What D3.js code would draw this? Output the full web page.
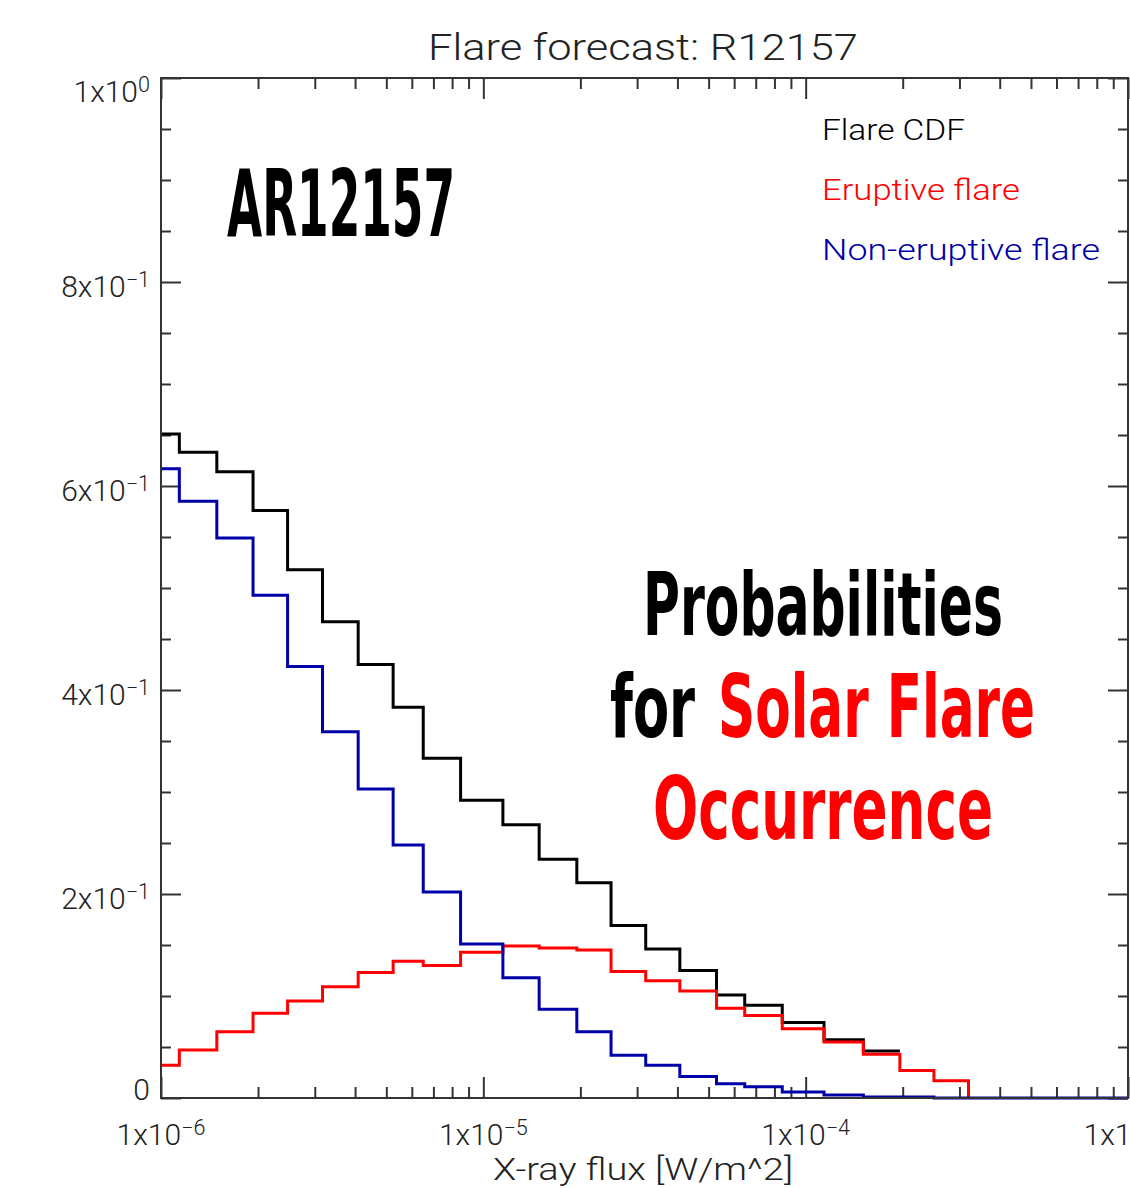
<!DOCTYPE html>
<html>
<head>
<meta charset="utf-8">
<script src="https://cdn.jsdelivr.net/npm/d3@7"></script>
<style>
  body { margin: 0; background: #fff; }
  svg { display: block; }
  .thin { font-family: Roboto, "Liberation Sans", sans-serif; font-weight: 300; }
  .big { font-family: "Liberation Sans Narrow", "DejaVu Sans Condensed", sans-serif; font-weight: bold; }
</style>
</head>
<body>
<div id="chart"></div>
<script>
// bin edges of the X-ray flux histogram [W/m^2]
const binEdges = [1.00e-6, 1.14e-6, 1.49e-6, 1.93e-6, 2.47e-6, 3.17e-6, 4.09e-6, 5.25e-6,
  6.51e-6, 8.50e-6, 1.15e-5, 1.49e-5, 1.95e-5, 2.49e-5, 3.19e-5, 4.07e-5, 5.29e-5,
  6.47e-5, 8.46e-5, 1.14e-4, 1.51e-4, 1.96e-4, 2.50e-4, 3.20e-4, 1.00e-3];

const flareCdf = [0.651, 0.633, 0.614, 0.576, 0.518, 0.467, 0.425, 0.383, 0.333, 0.292,
  0.268, 0.234, 0.211, 0.169, 0.146, 0.125, 0.101, 0.091, 0.074, 0.057, 0.046];

const eruptive = [0.032, 0.047, 0.065, 0.083, 0.095, 0.109, 0.123, 0.134, 0.130, 0.143,
  0.149, 0.147, 0.145, 0.124, 0.115, 0.105, 0.088, 0.081, 0.068, 0.055, 0.043, 0.027,
  0.017, 0];

const nonEruptive = [0.617, 0.585, 0.549, 0.493, 0.423, 0.359, 0.303, 0.248, 0.202, 0.151,
  0.118, 0.087, 0.065, 0.042, 0.032, 0.021, 0.014, 0.011, 0.006, 0.003, 0.001, 0.001,
  0, 0];

const seriesNames = ["Flare CDF", "Eruptive flare", "Non-eruptive flare"];
const seriesColors = ["#000000", "#ff0000", "#0000a8"];

const xTickValues = [1e-6, 1e-5, 1e-4, 1e-3];
const xTickExponents = ["\u22126", "\u22125", "\u22124", "\u22123"];
const yTickValues = [0, 0.2, 0.4, 0.6, 0.8, 1];
const yTickMantissas = ["0", "2x10", "4x10", "6x10", "8x10", "1x10"];
const yTickExponents = ["", "\u22121", "\u22121", "\u22121", "\u22121", "0"];

const width = 1130, height = 1188;
const margin = { top: 78, right: 2, bottom: 90, left: 161 };

const svg = d3.select("#chart").append("svg")
  .attr("width", width)
  .attr("height", height);

svg.append("rect").attr("width", width).attr("height", height).attr("fill", "#fff");

const x = d3.scaleLog()
  .domain([1e-6, 1e-3])
  .range([margin.left, width - margin.right]);

const y = d3.scaleLinear()
  .domain([0, 1])
  .range([height - margin.bottom, margin.top]);

// minor ticks: 2..9 in each decade, y every 0.05
const xMinor = [];
[-6, -5, -4].forEach((d) => {
  for (let k = 2; k <= 9; k++) xMinor.push(k * Math.pow(10, d));
});
const yMinor = d3.range(0.05, 1, 0.05).filter((v) => Math.abs(v / 0.2 - Math.round(v / 0.2)) > 1e-6);

const axisColor = "#333";

function drawAxis(axisFn, scale, values, len, translate) {
  const g = svg.append("g")
    .attr("transform", translate)
    .call(axisFn(scale).tickValues(values).tickSize(-len).tickFormat(""));
  g.select(".domain").remove();
  g.selectAll(".tick line").attr("stroke", axisColor).attr("stroke-width", 2);
}

const x0 = margin.left, x1 = width - margin.right;
const y0 = height - margin.bottom, y1 = margin.top;

drawAxis(d3.axisBottom, x, xMinor, 11, `translate(0,${y0})`);
drawAxis(d3.axisBottom, x, xTickValues, 21, `translate(0,${y0})`);
drawAxis(d3.axisTop, x, xMinor, 11, `translate(0,${y1})`);
drawAxis(d3.axisTop, x, xTickValues, 21, `translate(0,${y1})`);
drawAxis(d3.axisLeft, y, yMinor, 10, `translate(${x0},0)`);
drawAxis(d3.axisLeft, y, yTickValues, 20, `translate(${x0},0)`);
drawAxis(d3.axisRight, y, yMinor, 10, `translate(${x1},0)`);
drawAxis(d3.axisRight, y, yTickValues, 20, `translate(${x1},0)`);

// step lines; a series can stop where it drops to zero
function stepPoints(values, stopAtZero) {
  const pts = values.map((v, i) => [binEdges[i], v]);
  if (stopAtZero && values[values.length - 1] === 0) return pts;
  pts.push([binEdges[values.length], values[values.length - 1]]);
  return pts;
}

const line = d3.line()
  .x((d) => x(d[0]))
  .y((d) => y(d[1]))
  .curve(d3.curveStepAfter);

[[flareCdf, false], [eruptive, true], [nonEruptive, false]].forEach(([vals, stop], i) => {
  svg.append("path")
    .datum(stepPoints(vals, stop))
    .attr("fill", "none")
    .attr("stroke", seriesColors[i])
    .attr("stroke-width", 3)
    .attr("d", line);
});

// frame
svg.append("rect")
  .attr("x", x0).attr("y", y1)
  .attr("width", x1 - x0).attr("height", y0 - y1)
  .attr("fill", "none")
  .attr("stroke", axisColor)
  .attr("stroke-width", 2);

// x tick labels
xTickValues.forEach((v, i) => {
  const t = svg.append("text")
    .attr("class", "thin")
    .attr("x", x(v))
    .attr("y", 1145)
    .attr("text-anchor", "middle")
    .attr("font-size", 30)
    .attr("fill", "#222");
  t.append("tspan").text("1x10");
  t.append("tspan").attr("dy", "-0.45em").attr("font-size", "0.72em").text(xTickExponents[i]);
});

// y tick labels
yTickValues.forEach((v, i) => {
  const base = Math.min(Math.max(y(v) + 15, 102), 1100);
  const t = svg.append("text")
    .attr("class", "thin")
    .attr("x", 150)
    .attr("y", base)
    .attr("text-anchor", "end")
    .attr("font-size", 30)
    .attr("fill", "#222");
  t.append("tspan").text(yTickMantissas[i]);
  if (yTickExponents[i]) {
    t.append("tspan").attr("dy", "-0.45em").attr("font-size", "0.72em").text(yTickExponents[i]);
  }
});

// title and axis title
svg.append("text")
  .attr("class", "thin")
  .attr("x", 428).attr("y", 60)
  .attr("font-size", 36)
  .attr("textLength", 430)
  .attr("lengthAdjust", "spacingAndGlyphs")
  .attr("fill", "#222")
  .text("Flare forecast: R12157");

svg.append("text")
  .attr("class", "thin")
  .attr("x", 493).attr("y", 1180)
  .attr("font-size", 31)
  .attr("textLength", 300)
  .attr("lengthAdjust", "spacingAndGlyphs")
  .attr("fill", "#222")
  .text("X-ray flux [W/m^2]");

// legend
const legendWidths = [143, 198, 278];
seriesNames.forEach((name, i) => {
  svg.append("text")
    .attr("class", "thin")
    .attr("x", 822)
    .attr("y", 140 + i * 60)
    .attr("font-size", 30)
    .attr("textLength", legendWidths[i])
    .attr("lengthAdjust", "spacingAndGlyphs")
    .attr("fill", seriesColors[i])
    .text(name);
});

// annotations
function bigText(parts, yPos, size) {
  const t = svg.append("text")
    .attr("class", "big")
    .attr("y", yPos)
    .attr("font-size", size);
  parts.forEach((p) => {
    t.append("tspan")
      .attr("x", p.x)
      .attr("textLength", p.len)
      .attr("lengthAdjust", "spacingAndGlyphs")
      .attr("fill", p.color)
      .text(p.str);
  });
}

bigText([{ str: "AR12157", x: 227, len: 228, color: "#000" }], 236, 93);
bigText([{ str: "Probabilities", x: 643, len: 360, color: "#000" }], 635, 88);
bigText([
  { str: "for", x: 610, len: 85, color: "#000" },
  { str: "Solar Flare", x: 718, len: 317, color: "#ff0000" },
], 737, 88);
bigText([{ str: "Occurrence", x: 653, len: 340, color: "#ff0000" }], 839, 88);
</script>
</body>
</html>
